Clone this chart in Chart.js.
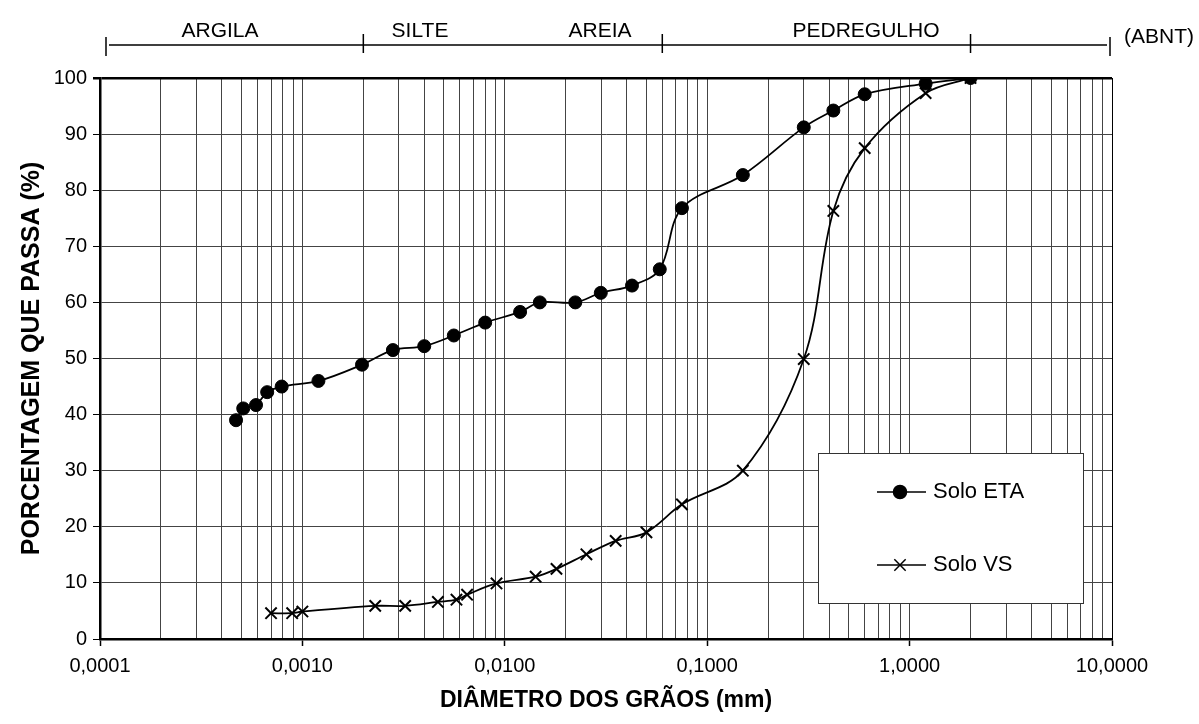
<!DOCTYPE html>
<html>
<head>
<meta charset="utf-8">
<script src="https://cdn.jsdelivr.net/npm/chart.js@4/dist/chart.umd.min.js"></script>
<style>
 body { margin: 0; background: #fff; }
 #wrap { width: 1199px; height: 724px; }
</style>
</head>
<body>
<div id="wrap"><canvas id="granChart" width="1199" height="724"></canvas></div>
<script>
// curva granulometrica
var etaDiam = [0.00047, 0.00051, 0.00059, 0.00067, 0.00079, 0.0012, 0.00197, 0.0028, 0.0040, 0.0056, 0.0080, 0.0119, 0.0149, 0.0223, 0.0298, 0.0425, 0.0583, 0.075, 0.15, 0.30, 0.42, 0.60, 1.2, 2.0];
var etaPass = [39.0, 41.1, 41.7, 44.0, 45.0, 46.0, 48.9, 51.5, 52.2, 54.1, 56.4, 58.3, 60.0, 60.0, 61.7, 63.0, 65.9, 76.8, 82.7, 91.2, 94.2, 97.1, 99.0, 100];

var vsDiam = [0.0007, 0.00089, 0.001, 0.00229, 0.00322, 0.00467, 0.00577, 0.00651, 0.0091, 0.0142, 0.0180, 0.0253, 0.0353, 0.0501, 0.075, 0.15, 0.30, 0.42, 0.60, 1.2, 2.0];
var vsPass = [4.6, 4.6, 4.9, 5.9, 5.9, 6.6, 7.0, 7.9, 9.9, 11.1, 12.5, 15.1, 17.5, 19.0, 24.0, 30.0, 49.9, 76.3, 87.5, 97.3, 100];

var seriesNames = ["Solo ETA", "Solo VS"];

// escala ABNT
var bandEdges = [0.0001, 0.002, 0.06, 2, 10];
var bandNames = ["ARGILA", "SILTE", "AREIA", "PEDREGULHO"];

var xMin = 0.0001;
var xMax = 10;
var yTicks = [0, 10, 20, 30, 40, 50, 60, 70, 80, 90, 100];

var fontFamily = "'Liberation Sans', Arial, Helvetica, sans-serif";

function toPoints(xs, ys) {
 return xs.map(function (x, i) {
  return { x: x, y: ys[i] };
 });
}

function isDecade(v) {
 var l = Math.log10(v);
 return Math.abs(l - Math.round(l)) < 1e-9;
}

function formatDiam(v) {
 return v.toFixed(4).replace(".", ",");
}

// faixa ARGILA / SILTE / AREIA / PEDREGULHO acima do grafico
var abntBand = {
 id: "abntBand",
 afterDraw: function (chart) {
  var ctx = chart.ctx;
  var xs = chart.scales.x;
  var lineY = 45;
  var px = bandEdges.map(function (v) { return xs.getPixelForValue(v); });
  px[0] += 6;
  px[px.length - 1] -= 2;

  ctx.save();
  ctx.strokeStyle = "#000";
  ctx.lineWidth = 1.5;
  ctx.beginPath();
  ctx.moveTo(px[0] + 3, lineY);
  ctx.lineTo(px[px.length - 1] - 3, lineY);
  for (var i = 0; i < px.length; i++) {
   var top = (i === 0 || i === px.length - 1) ? lineY - 8 : lineY - 11;
   var bot = (i === 0 || i === px.length - 1) ? lineY + 11 : lineY + 8;
   ctx.moveTo(px[i], top);
   ctx.lineTo(px[i], bot);
  }
  ctx.stroke();

  ctx.fillStyle = "#000";
  ctx.font = "21px " + fontFamily;
  ctx.textAlign = "center";
  ctx.textBaseline = "alphabetic";
  var labelX = [220, 420, 600, 866];
  bandNames.forEach(function (name, i) {
   ctx.fillText(name, labelX[i], 37);
  });
  ctx.textAlign = "left";
  ctx.fillText("(ABNT)", 1124, 43);
  ctx.restore();
 }
};

// legenda em caixa dentro do grafico
var boxLegend = {
 id: "boxLegend",
 afterDraw: function (chart) {
  var ctx = chart.ctx;
  ctx.save();
  ctx.fillStyle = "#fff";
  ctx.fillRect(818, 453, 265, 150);
  ctx.strokeStyle = "#333";
  ctx.lineWidth = 1;
  ctx.strokeRect(818.5, 453.5, 265, 150);

  var rows = [492, 565];
  chart.data.datasets.forEach(function (ds, i) {
   var y = rows[i];
   ctx.strokeStyle = "#000";
   ctx.lineWidth = 1.5;
   ctx.beginPath();
   ctx.moveTo(877, y);
   ctx.lineTo(926, y);
   ctx.stroke();
   Chart.helpers.drawPoint(ctx, {
    pointStyle: ds.pointStyle,
    radius: ds.pointRadius,
    borderWidth: ds.pointBorderWidth
   }, 900, y);
   if (ds.pointStyle === "circle") {
    ctx.fillStyle = "#000";
    ctx.beginPath();
    ctx.arc(900, y, ds.pointRadius, 0, Math.PI * 2);
    ctx.fill();
   }
   ctx.fillStyle = "#000";
   ctx.font = "22px " + fontFamily;
   ctx.textAlign = "left";
   ctx.textBaseline = "middle";
   ctx.fillText(ds.label, 933, y);
  });
  ctx.restore();
 }
};

var chartDiv = document.getElementById("granChart");

new Chart(chartDiv, {
 type: "line",
 data: {
  datasets: [
   {
    label: seriesNames[0],
    data: toPoints(etaDiam, etaPass),
    borderColor: "#000",
    backgroundColor: "#000",
    borderWidth: 1.8,
    pointStyle: "circle",
    pointRadius: 6.5,
    pointBorderWidth: 1,
    pointBackgroundColor: "#000",
    pointBorderColor: "#000",
    tension: 0.35,
    fill: false
   },
   {
    label: seriesNames[1],
    data: toPoints(vsDiam, vsPass),
    borderColor: "#000",
    backgroundColor: "#000",
    borderWidth: 1.8,
    pointStyle: "crossRot",
    pointRadius: 8,
    pointBorderWidth: 2,
    pointBorderColor: "#000",
    tension: 0.35,
    fill: false
   }
  ]
 },
 options: {
  responsive: false,
  animation: false,
  layout: {
   padding: { top: 78, right: 87, left: 0, bottom: 0 }
  },
  plugins: {
   legend: { display: false },
   tooltip: { enabled: false }
  },
  scales: {
   x: {
    type: "logarithmic",
    min: xMin,
    max: xMax,
    afterBuildTicks: function (scale) {
     var ticks = [];
     for (var e = -4; e <= 0; e++) {
      for (var m = 1; m <= 9; m++) {
       ticks.push({ value: parseFloat((m * Math.pow(10, e)).toPrecision(6)) });
      }
     }
     ticks.push({ value: 10 });
     scale.ticks = ticks;
    },
    afterFit: function (scale) {
     scale.height = 85;
    },
    ticks: {
     autoSkip: false,
     maxRotation: 0,
     padding: 8,
     color: "#000",
     font: { family: fontFamily, size: 20 },
     callback: function (value) {
      return isDecade(value) ? formatDiam(value) : "";
     }
    },
    grid: {
     color: function (c) {
      return c.tick && c.tick.value === xMax ? "#000" : "#444";
     },
     lineWidth: 1,
     tickLength: 7,
     tickColor: function (c) {
      return c.tick && isDecade(c.tick.value) ? "#000" : "rgba(0,0,0,0)";
     },
     tickWidth: 1.5
    },
    border: { color: "#000", width: 2.5 },
    title: {
     display: true,
     text: "DIÂMETRO DOS GRÃOS (mm)",
     color: "#000",
     font: { family: fontFamily, size: 23, weight: "bold" },
     padding: { top: 0, bottom: 10 }
    }
   },
   y: {
    min: 0,
    max: 100,
    afterBuildTicks: function (scale) {
     scale.ticks = yTicks.map(function (v) { return { value: v }; });
    },
    afterFit: function (scale) {
     scale.width = 100;
    },
    ticks: {
     padding: 6,
     color: "#000",
     font: { family: fontFamily, size: 20 }
    },
    grid: {
     color: function (c) {
      return c.tick && c.tick.value === 100 ? "#000" : "#444";
     },
     lineWidth: function (c) {
      return c.tick && c.tick.value === 100 ? 2.5 : 1;
     },
     tickLength: 7,
     tickColor: "#000"
    },
    border: { color: "#000", width: 2.5 },
    title: {
     display: true,
     text: "PORCENTAGEM QUE PASSA (%)",
     color: "#000",
     font: { family: fontFamily, size: 25, weight: "bold" },
     padding: { top: 17, bottom: 0 }
    }
   }
  }
 },
 plugins: [abntBand, boxLegend]
});
</script>
</body>
</html>
